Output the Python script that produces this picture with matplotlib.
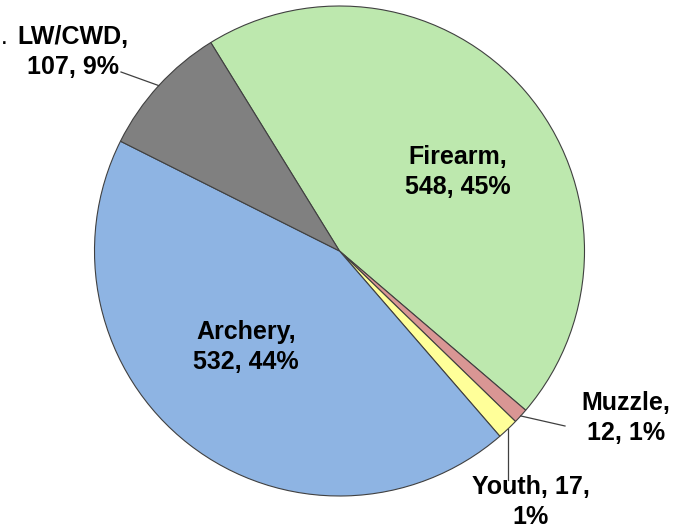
import numpy as np
import matplotlib
matplotlib.use('Agg')
import matplotlib.pyplot as plt

# data, in clockwise order starting at the Firearm wedge
labels = ['Firearm', 'Muzzle', 'Youth', 'Archery', 'LW/CWD']
counts = [548, 12, 17, 532, 107]
pcts = [45, 1, 1, 44, 9]
colors = ['#BDE8AE', '#D99694', '#FFFF99', '#8EB4E3', '#808080']

plt.rcParams['font.family'] = ['Liberation Sans', 'DejaVu Sans']

W, H, DPI = 685, 531, 100
cx, cy, R = 339.5, 251.0, 245.0   # pie centre / radius in pixels

def px(x, y):
    # pixel position -> data coords (radius 1 pie at origin)
    return (x - cx) / R, (cy - y) / R

fig = plt.figure(figsize=(W / DPI, H / DPI), dpi=DPI)
ax = fig.add_axes([0, 0, 1, 1])
wedges, _ = ax.pie(counts, colors=colors, startangle=121.7, counterclock=False,
                   radius=1, wedgeprops=dict(edgecolor='#404040', linewidth=0.8))
ax.set_aspect('auto')
ax.set_xlim(px(0, 0)[0], px(W, 0)[0])
ax.set_ylim(px(0, H)[1], px(0, 0)[1])
ax.axis('off')

def edge_point(w):
    mid = np.deg2rad((w.theta1 + w.theta2) / 2)
    return np.cos(mid), np.sin(mid)

txt = {}
for lab, c, p in zip(labels, counts, pcts):
    txt[lab] = '%s,\n%d, %d%%' % (lab, c, p)
txt['Youth'] = 'Youth, %d,\n%d%%' % (counts[2], pcts[2])

label_pos = {
    'Firearm': px(458, 172),
    'Archery': px(246, 347),
    'LW/CWD': px(73, 52),
    'Muzzle': px(626, 418),
    'Youth': px(531, 502),
}
for lab in labels:
    x, y = label_pos[lab]
    ax.text(x, y, txt[lab], ha='center', va='center', ma='center',
            fontsize=18, fontweight='bold', color='black', linespacing=1.32)

# leader lines
lw_ = wedges[labels.index('LW/CWD')]
ex, ey = edge_point(lw_)
ax.plot([ex, px(121, 72)[0]], [ey, px(121, 72)[1]], color='#404040', lw=0.9)

mz = wedges[labels.index('Muzzle')]
ex, ey = edge_point(mz)
ax.plot([ex, px(565, 426)[0]], [ey, px(565, 426)[1]], color='#404040', lw=0.9)

yt = wedges[labels.index('Youth')]
ex, ey = edge_point(yt)
ax.plot([ex, ex], [ey, px(0, 480)[1]], color='#404040', lw=0.9)

# stray dot at the far left of the original
ax.text(*px(4, 40), '.', ha='center', va='center', fontsize=12, fontweight='bold')

fig.savefig('out.png', dpi=DPI)
